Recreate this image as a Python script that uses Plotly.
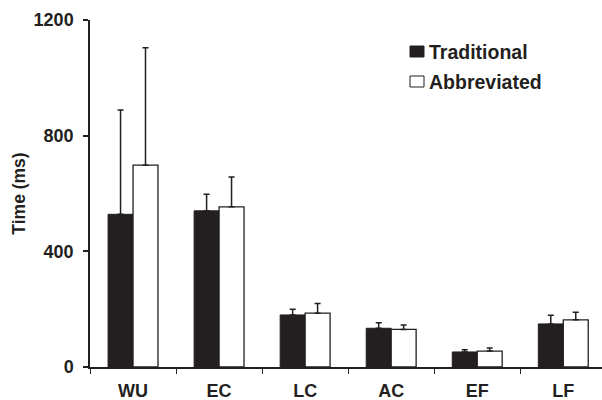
import plotly.graph_objects as go

categories = ["WU", "EC", "LC", "AC", "EF", "LF"]
traditional = [528, 540, 180, 134, 52, 149]
traditional_err = [361, 57, 20, 19, 8, 30]
abbreviated = [698, 554, 186, 130, 55, 163]
abbreviated_err = [406, 103, 34, 15, 11, 26]
y_ticks = [0, 400, 800, 1200]
series_names = ["Traditional", "Abbreviated"]

DARK = "#231f20"
FONT = "Liberation Sans, Arial, sans-serif"

# plot area in pixels
L, T, W, H = 90, 20, 512, 347

def px_x(p):
    return (p - L) / W

def px_y(p):
    return (T + H - p) / H

fig = go.Figure()
fig.add_trace(go.Bar(
    name=series_names[0], x=categories, y=traditional,
    marker=dict(color=DARK, line=dict(color=DARK, width=1)),
    error_y=dict(type="data", array=traditional_err, arrayminus=[0]*6,
                 symmetric=False, color=DARK, thickness=1.5, width=3),
    showlegend=False,
))
fig.add_trace(go.Bar(
    name=series_names[1], x=categories, y=abbreviated,
    marker=dict(color="white", line=dict(color=DARK, width=1.3)),
    error_y=dict(type="data", array=abbreviated_err, arrayminus=[0]*6,
                 symmetric=False, color=DARK, thickness=1.5, width=3),
    showlegend=False,
))

# legend drawn as shapes + text
legend_items = [(series_names[0], DARK, 46, 57), (series_names[1], "white", 76, 87)]
for name, fill, y0, y1 in legend_items:
    fig.add_shape(type="rect", xref="paper", yref="paper",
                  x0=px_x(410), x1=px_x(424), y0=px_y(y1), y1=px_y(y0),
                  fillcolor=fill, line=dict(color=DARK, width=1))
    fig.add_annotation(xref="paper", yref="paper", x=px_x(427), y=px_y((y0 + y1) / 2 + 0.5),
                       xanchor="left", yanchor="middle", text=name, showarrow=False,
                       font=dict(family=FONT, size=19.5, color=DARK, weight="bold"))

fig.update_layout(
    width=602, height=400,
    margin=dict(l=L, r=602 - L - W, t=T, b=400 - T - H, autoexpand=False),
    paper_bgcolor="white", plot_bgcolor="white",
    barmode="group", bargap=0.42, bargroupgap=0,
    font=dict(family=FONT, size=18, color=DARK, weight="bold"),
    showlegend=False,
)
fig.update_xaxes(
    type="category", range=[-0.5, 5.45],
    showline=True, linecolor=DARK, linewidth=1.5,
    ticks="outside", tickson="boundaries", ticklen=5, tickcolor=DARK, tickwidth=1,
    showgrid=False, zeroline=False, ticklabelstandoff=7,
    tickfont=dict(size=18, weight="bold"),
)
fig.update_yaxes(
    range=[0, 1200], tickvals=y_ticks,
    showline=True, linecolor=DARK, linewidth=1.5,
    ticks="outside", ticklen=5, tickcolor=DARK, tickwidth=1.5,
    showgrid=False, zeroline=False, ticklabelstandoff=6,
    tickfont=dict(size=18, weight="bold"),
    title=dict(text="Time (ms)", standoff=3, font=dict(size=17.5, weight="bold")),
)

fig.write_html("out.html", config={"displayModeBar": False},
               post_script="document.body.style.margin='0';")
